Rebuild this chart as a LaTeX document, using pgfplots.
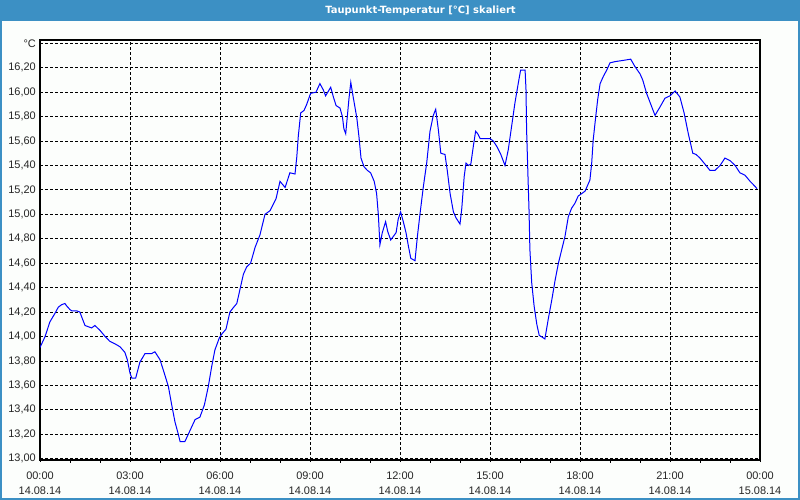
\documentclass[border=0pt]{standalone}
\usepackage{pgfplots}
\pgfplotsset{compat=1.18}
\usepackage{fontspec}
\setmainfont{Liberation Sans}
\newfontfamily\titlefont{DejaVu Sans}
\definecolor{titleblue}{RGB}{60,144,196}
\definecolor{bg}{RGB}{252,254,252}
\pgfplotstableread{
h v
0.00 13.91
0.17 14.00
0.33 14.12
0.50 14.19
0.61 14.24
0.72 14.26
0.83 14.27
0.89 14.25
1.00 14.22
1.06 14.21
1.22 14.21
1.33 14.20
1.39 14.16
1.50 14.09
1.61 14.08
1.72 14.07
1.83 14.09
2.00 14.05
2.17 14.00
2.33 13.96
2.50 13.94
2.67 13.915
2.83 13.87
2.91 13.81
3.00 13.70
3.06 13.66
3.19 13.66
3.33 13.79
3.50 13.86
3.72 13.86
3.83 13.875
4.00 13.81
4.13 13.71
4.28 13.59
4.39 13.44
4.50 13.30
4.61 13.20
4.67 13.14
4.83 13.14
5.00 13.23
5.17 13.32
5.33 13.34
5.48 13.44
5.61 13.59
5.72 13.75
5.83 13.89
5.98 13.99
6.06 14.02
6.20 14.06
6.33 14.20
6.44 14.235
6.56 14.27
6.67 14.39
6.78 14.51
6.89 14.57
7.02 14.60
7.17 14.73
7.33 14.83
7.50 15.00
7.67 15.03
7.87 15.13
8.00 15.27
8.17 15.22
8.33 15.34
8.50 15.33
8.56 15.47
8.61 15.64
8.69 15.83
8.80 15.85
8.89 15.90
9.02 15.99
9.20 16.00
9.33 16.07
9.44 16.02
9.52 15.97
9.69 16.04
9.78 15.96
9.87 15.89
10.00 15.87
10.08 15.80
10.13 15.70
10.19 15.66
10.24 15.79
10.30 15.95
10.36 16.08
10.44 15.96
10.56 15.79
10.63 15.64
10.70 15.46
10.80 15.39
10.91 15.36
11.02 15.34
11.14 15.27
11.22 15.17
11.28 14.99
11.33 14.75
11.41 14.85
11.52 14.94
11.59 14.86
11.69 14.79
11.87 14.85
11.94 14.96
12.02 15.02
12.11 14.94
12.20 14.85
12.28 14.74
12.36 14.64
12.50 14.62
12.58 14.82
12.67 15.01
12.78 15.23
12.89 15.42
13.00 15.68
13.11 15.81
13.19 15.86
13.28 15.69
13.36 15.50
13.50 15.49
13.58 15.35
13.67 15.17
13.78 15.02
13.87 14.97
14.00 14.92
14.06 15.05
14.14 15.31
14.20 15.42
14.28 15.40
14.36 15.41
14.44 15.55
14.52 15.68
14.59 15.66
14.67 15.62
14.83 15.62
15.00 15.62
15.11 15.60
15.24 15.55
15.36 15.49
15.50 15.40
15.61 15.53
15.72 15.72
15.83 15.91
15.94 16.07
16.02 16.18
16.17 16.18
16.20 16.02
16.22 15.69
16.26 15.36
16.30 15.04
16.33 14.71
16.39 14.44
16.47 14.25
16.56 14.10
16.64 14.01
16.83 13.98
16.94 14.14
17.06 14.30
17.17 14.46
17.28 14.60
17.39 14.71
17.50 14.82
17.61 14.98
17.72 15.05
17.83 15.09
17.94 15.15
18.06 15.17
18.17 15.19
18.24 15.23
18.33 15.28
18.39 15.42
18.44 15.61
18.52 15.79
18.59 15.94
18.67 16.07
18.78 16.13
18.89 16.18
19.00 16.24
19.17 16.25
19.44 16.26
19.69 16.27
19.83 16.21
20.00 16.15
20.09 16.10
20.22 15.99
20.36 15.90
20.50 15.81
20.67 15.88
20.83 15.95
21.00 15.97
21.17 16.01
21.33 15.96
21.47 15.83
21.61 15.66
21.76 15.50
21.87 15.49
22.00 15.46
22.20 15.40
22.33 15.36
22.50 15.36
22.67 15.40
22.83 15.46
23.00 15.44
23.17 15.40
23.33 15.34
23.50 15.32
23.67 15.27
23.83 15.23
23.90 15.21
}\dewpoint
\begin{document}
\begin{tikzpicture}
\useasboundingbox (0,0) rectangle (800bp,500bp);
\fill[bg] (0,0) rectangle (800bp,500bp);
\fill[titleblue] (0,479bp) rectangle (800bp,500bp);
\draw[titleblue, line width=2bp] (1bp,479bp) -- (1bp,1bp) -- (799bp,1bp) -- (799bp,479bp);
\node[text=white, font=\titlefont\bfseries\fontsize{10}{12}\selectfont, inner sep=0pt] at (420.5bp,489.5bp) {Taupunkt-Temperatur [°C] skaliert};
\begin{axis}[
  at={(40bp,40bp)}, anchor=south west,
  width=720bp, height=420bp, scale only axis,
  xmin=0, xmax=24, ymin=12.989, ymax=16.427,
  axis line style={line width=1.2bp, black},
  xtick={0,3,6,9,12,15,18,21,24},
  xticklabels={{00:00\\14.08.14},{03:00\\14.08.14},{06:00\\14.08.14},{09:00\\14.08.14},{12:00\\14.08.14},{15:00\\14.08.14},{18:00\\14.08.14},{21:00\\14.08.14},{00:00\\15.08.14}},
  minor x tick num=2,
  ytick={13,13.2,13.4,13.6,13.8,14,14.2,14.4,14.6,14.8,15,15.2,15.4,15.6,15.8,16,16.2,16.4},
  yticklabels={{13,00},{13,20},{13,40},{13,60},{13,80},{14,00},{14,20},{14,40},{14,60},{14,80},{15,00},{15,20},{15,40},{15,60},{15,80},{16,00},{16,20},{°C}},
  grid=major,
  major grid style={black, dash pattern=on 3bp off 2bp, line width=0.8bp},
  tick align=outside,
  xtick pos=bottom, ytick pos=left,
  major tick length=2bp, minor tick length=2.5bp,
  ytick style={draw=none},
  xtick style={black, line width=0.8bp},
  minor tick style={black, line width=0.8bp},
  xticklabel style={align=center, font=\fontsize{11}{15}\selectfont, inner sep=0pt, yshift=-10bp, text=black!85},
  yticklabel style={font=\fontsize{11}{13}\selectfont, inner sep=0pt, xshift=-2bp, text=black!85},
]
\addplot[blue, line width=1bp, mark=none] table[x=h, y=v] {\dewpoint};
\end{axis}
\end{tikzpicture}
\end{document}
